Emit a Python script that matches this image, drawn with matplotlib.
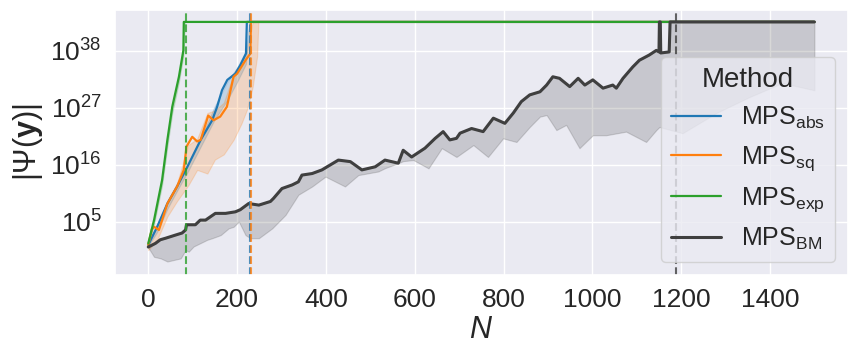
import numpy as np
import matplotlib
matplotlib.use("Agg")
import matplotlib.pyplot as plt
import seaborn as sns

sns.set_theme(style="darkgrid")
plt.rcParams['font.family'] = ['Liberation Sans', 'DejaVu Sans']
plt.rcParams['mathtext.fontset'] = 'custom'
plt.rcParams['mathtext.rm'] = 'Liberation Sans'
plt.rcParams['mathtext.it'] = 'Liberation Sans:italic'
plt.rcParams['mathtext.bf'] = 'Liberation Sans:bold'

# values are log10 |Psi(y)|
cap = 43.6

abs_x = [0, 20, 43, 65, 88, 118, 144, 155, 166, 178, 196, 207, 220, 222, 1500]
abs_y = [0.5, 4.0, 8.5, 11.8, 15.6, 20.8, 24.6, 27.2, 30.4, 32.4, 33.6, 35.2, 37.5, cap, cap]
abs_bx = [0, 20, 43, 65, 88, 118, 148, 178, 200, 220, 228]
abs_lo = [0.3, 3.0, 7.5, 11.0, 14.5, 19.5, 24.5, 28.5, 32.0, 35.5, cap]
abs_hi = [0.7, 4.3, 8.8, 12.1, 15.9, 21.1, 27.0, 32.0, 34.8, 38.0, cap]

sq_x = [0, 8, 13, 24, 30, 43, 65, 80, 86, 99, 110, 118, 135, 147, 162, 177, 192, 200, 219, 230, 231, 1500]
sq_y = [0.5, 3.5, 4.0, 3.4, 5.0, 8.5, 11.8, 15.0, 19.5, 21.4, 20.5, 20.8, 25.5, 24.6, 25.3, 27.2, 33.0, 33.6, 36.2, 37.5, cap, cap]
sq_bx = [0, 20, 43, 65, 90, 110, 133, 150, 170, 192, 210, 222, 235, 245, 248]
sq_lo = [-0.5, 1.5, 6.0, 9.0, 12.0, 15.0, 14.3, 17.0, 18.0, 20.8, 24.0, 26.6, 31.0, 36.9, cap]
sq_hi = [0.8, 4.5, 9.0, 12.5, 19.8, 21.0, 26.0, 26.5, 28.0, 33.5, 36.0, 38.0, cap, cap, cap]

exp_x = [0, 13, 31, 43, 54, 69, 79, 80, 1500]
exp_y = [0.8, 5.3, 13.0, 20.8, 27.2, 33.0, 38.1, cap, cap]
exp_bx = [0, 13, 31, 43, 54, 69, 79, 82]
exp_lo = [0.5, 4.5, 12.0, 19.5, 26.0, 32.0, 37.0, cap]
exp_hi = [0.9, 5.5, 13.2, 21.0, 27.4, 33.2, 38.3, cap]

bm_x = [0, 16, 27, 39, 61, 76, 84, 86, 106, 117, 129, 151, 174, 196, 207, 226, 249, 275, 282, 301,
        324, 338, 346, 369, 391, 428, 455, 481, 511, 533, 563, 574, 593, 623, 646, 664, 679, 694, 702, 728,
        754, 777, 803, 822, 840, 859, 882, 897, 911, 926, 949, 968, 983, 1001, 1024, 1046, 1054, 1069, 1091, 1106,
        1128, 1144, 1150, 1151, 1153, 1154, 1173, 1175, 1500]
bm_y = [0.1, 0.8, 1.5, 1.8, 2.4, 2.8, 3.4, 4.4, 4.4, 5.3, 5.3, 6.6, 6.6, 6.9, 7.3, 8.5, 8.2, 8.9, 9.5, 11.4,
        12.1, 12.7, 14.0, 14.3, 15.0, 16.9, 16.6, 15.0, 15.6, 16.9, 16.3, 18.8, 17.5, 19.2, 21.1, 22.4, 20.8, 21.1, 22.1, 23.0,
        22.4, 25.0, 24.0, 26.0, 28.2, 29.5, 30.1, 31.4, 33.0, 32.7, 31.1, 32.7, 31.4, 32.4, 30.8, 31.4, 30.8, 32.7, 34.9, 36.2,
        37.2, 38.1, 37.8, cap, cap, 37.6, 37.8, cap, cap]
bm_bx = [0, 13, 28, 43, 58, 73, 84, 91, 102, 133, 144, 163, 181, 192, 204, 219, 230, 249, 279, 309,
         338, 369, 399, 443, 473, 518, 563, 597, 631, 661, 694, 732, 765, 799, 829, 859, 882, 897, 919, 941,
         971, 1001, 1031, 1076, 1121, 1144, 1151, 1203, 1279, 1354, 1428, 1500]
bm_lo = [0.0, -1.8, -2.1, -2.7, -2.4, -2.1, -0.5, -0.8, 0.2, 1.5, 1.8, 2.4, 3.7, 4.0, 5.0, 2.4, 1.8, 1.8, 3.7, 6.3,
         10.2, 11.8, 13.7, 11.8, 14.0, 14.7, 16.6, 16.9, 15.3, 19.2, 17.5, 19.8, 17.5, 21.1, 20.4, 23.3, 25.3, 25.6, 22.7, 23.7,
         19.2, 21.7, 21.7, 22.4, 20.4, 22.7, 23.3, 22.1, 26.0, 29.1, 31.8, 30.4]

stop = {'abs': 229, 'sq': 231, 'exp': 86, 'BM': 1189}

series = [
    ('abs', r'MPS$_{\mathrm{abs}}$', '#1f77b4', abs_x, abs_y, abs_bx, abs_lo, abs_hi),
    ('sq', r'MPS$_{\mathrm{sq}}$', '#ff7f0e', sq_x, sq_y, sq_bx, sq_lo, sq_hi),
    ('exp', r'MPS$_{\mathrm{exp}}$', '#2ca02c', exp_x, exp_y, exp_bx, exp_lo, exp_hi),
]

fig, ax = plt.subplots(figsize=(8.58, 3.58), dpi=100)
fig.subplots_adjust(left=0.134, right=0.988, top=0.972, bottom=0.232)

for key, lab, col, x, y, bx, lo, hi in series:
    ax.fill_between(bx, 10.0 ** np.array(lo), 10.0 ** np.array(hi), color=col, alpha=0.2, linewidth=0.8)
    ax.plot(x, 10.0 ** np.array(y), color=col, lw=1.6, label=lab)

bm_col = '#3f3f3f'
# band: from lower edge up to the mean line, on the union of both x grids
bx_all = np.array(sorted(set(bm_x) | set(bm_bx)), dtype=float)
band_hi = np.interp(bx_all, bm_x, bm_y)
band_lo = np.minimum(np.interp(bx_all, bm_bx, bm_lo), band_hi)
ax.fill_between(bx_all, 10.0 ** band_lo, 10.0 ** band_hi, color=bm_col, alpha=0.2, linewidth=0.8)
ax.plot(bm_x, 10.0 ** np.array(bm_y), color=bm_col, lw=2.2, label=r'MPS$_{\mathrm{BM}}$')

for key, col in [('exp', '#2ca02c'), ('abs', '#1f77b4'), ('sq', '#ff7f0e'), ('BM', bm_col)]:
    ax.axvline(stop[key], color=col, ls='--', lw=1.5, alpha=0.8)

ax.set_yscale('log')
ax.set_xlim(-75, 1575)
ax.set_ylim(10.0 ** -5.3, 10.0 ** 45.9)
ax.set_yticks([1e5, 1e16, 1e27, 1e38])
ax.yaxis.set_minor_locator(matplotlib.ticker.NullLocator())
ax.set_xticks(range(0, 1401, 200))
ax.tick_params(labelsize=19)
ax.set_xlabel(r'$N$', fontsize=22, labelpad=2)
ax.set_ylabel(r'$|\Psi(\mathbf{y})|$', fontsize=22)

leg = ax.legend(title='Method', loc='lower right', fontsize=18, title_fontsize=20, framealpha=0.8)

fig.savefig('out.png', dpi=100)
